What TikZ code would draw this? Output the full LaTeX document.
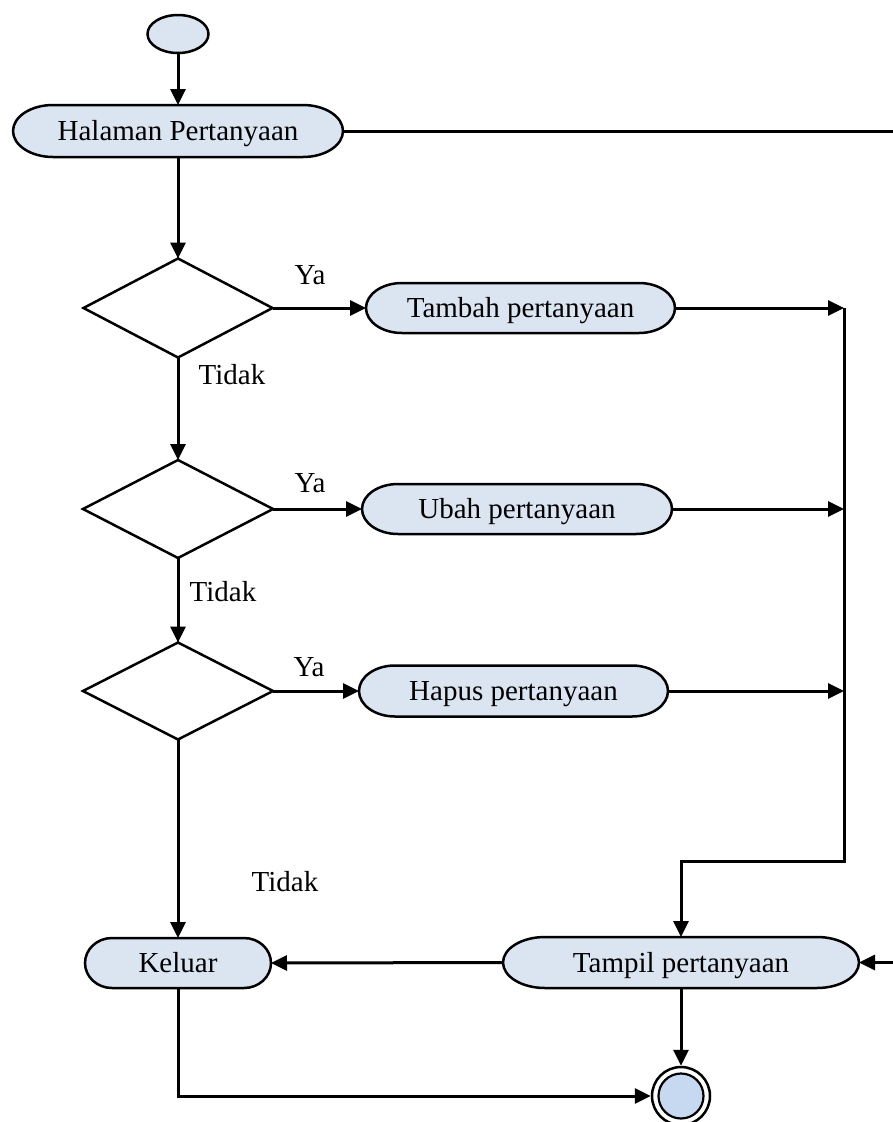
\documentclass[tikz,border=0pt]{standalone}
\usepackage{fontspec}
\setmainfont{Liberation Serif}
\usetikzlibrary{arrows.meta,shapes.geometric,calc}
\pgfdeclarelayer{background}
\pgfsetlayers{background,main}
\definecolor{actfill}{HTML}{DBE5F1}
\definecolor{endfill}{HTML}{C6D9F1}
\tikzset{
  txt/.style={font=\fontsize{29}{34}\selectfont},
  act/.style={txt, rectangle, inner sep=0pt, outer sep=0pt, text height=19pt, text depth=0pt},
  actbody/.style={draw=black, fill=actfill, line width=2.5pt},
  dec/.style={diamond, draw, line width=2.5pt, inner sep=0pt, outer sep=0pt},
  wire/.style={line width=3pt},
  flow/.style={wire, -{Triangle[length=16pt,width=15pt]}},
  lbl/.style={txt, inner sep=0pt},
}
% rounded activity outline with elliptical ends, drawn behind a named node
\newcommand\actshape[2]{%
  \path[actbody] let \p1=(#1.north west), \p2=(#1.south east), \n1={(\y1-\y2)/2} in
    (\x1+#2,\y1) -- (\x2-#2,\y1)
    arc[start angle=90, end angle=-90, x radius=#2, y radius=\n1]
    -- (\x1+#2,\y2)
    arc[start angle=270, end angle=90, x radius=#2, y radius=\n1] -- cycle;}
\begin{document}
\begin{tikzpicture}[x=1pt,y=1pt]
\useasboundingbox (0,0) rectangle (893,-1122);

% start
\node[ellipse, draw, line width=2.5pt, fill=actfill, minimum width=61pt, minimum height=38pt, inner sep=0pt] (st) at (178,-34) {};

% activities
\node[act, minimum width=330pt, minimum height=52pt] (hp) at (178,-131) {Halaman Pertanyaan};
\node[act, minimum width=309pt, minimum height=50pt] (tb) at (520.5,-308) {Tambah pertanyaan};
\node[act, minimum width=310pt, minimum height=50pt] (ub) at (517,-509) {Ubah pertanyaan};
\node[act, minimum width=309pt, minimum height=51pt] (hs) at (513.5,-691) {Hapus pertanyaan};
\node[act, minimum width=186pt, minimum height=50pt] (kl) at (178,-963) {Keluar};
\node[act, minimum width=356pt, minimum height=51pt] (tp) at (681,-962.5) {Tampil pertanyaan};

\begin{pgfonlayer}{background}
  \actshape{hp}{40pt}
  \actshape{tb}{36pt}
  \actshape{ub}{36pt}
  \actshape{hs}{36pt}
  \actshape{kl}{27pt}
  \actshape{tp}{42pt}
\end{pgfonlayer}

% decisions
\node[dec, minimum width=189pt, minimum height=99pt] (d1) at (178,-308) {};
\node[dec, minimum width=190pt, minimum height=98pt] (d2) at (178,-509) {};
\node[dec, minimum width=190pt, minimum height=97pt] (d3) at (178,-691) {};

% end
\node[circle, draw, line width=2.5pt, fill=white, minimum size=58pt, inner sep=0pt] (fin) at (681,-1096) {};
\node[circle, draw, line width=2.2pt, fill=endfill, minimum size=45pt, inner sep=0pt] (finc) at (fin.center) {};

% labels
\node[lbl] (ya1) at (310,-275) {Ya};
\node[lbl] (ya2) at (310,-483) {Ya};
\node[lbl] (ya3) at (309,-667) {Ya};
\node[lbl] (td1) at (232,-375) {Tidak};
\node[lbl] (td2) at (223,-592) {Tidak};
\node[lbl] (td3) at (285,-882) {Tidak};

% helper points
\coordinate (bus) at (844,0);
\coordinate (turn) at (844,-861);
\coordinate (offA) at (895,-131);
\coordinate (offB) at (895,-962.5);

% connectors
\draw[flow] (st.south) -- (hp.north);
\draw[wire] (hp.east) -- (offA);
\draw[flow] (hp.south) -- (d1.north);
\draw[flow] (d1.east) -- (tb.west);
\draw[flow] (d1.south) -- (d2.north);
\draw[flow] (d2.east) -- (ub.west);
\draw[flow] (d2.south) -- (d3.north);
\draw[flow] (d3.east) -- (hs.west);
\draw[flow] (d3.south) -- (kl.north);
\draw[flow] (tb.east) -- (tb.east -| bus);
\draw[flow] (ub.east) -- (ub.east -| bus);
\draw[flow] (hs.east) -- (hs.east -| bus);
\draw[flow] (tb.east -| bus) -- (turn) -| (tp.north);
\draw[flow] (offB) -- (tp.east);
\draw[flow] (tp.west) -- (kl.east);
\draw[flow] (tp.south) -- (fin.north);
\draw[flow] (kl.south) |- (fin.west);
\end{tikzpicture}
\end{document}
